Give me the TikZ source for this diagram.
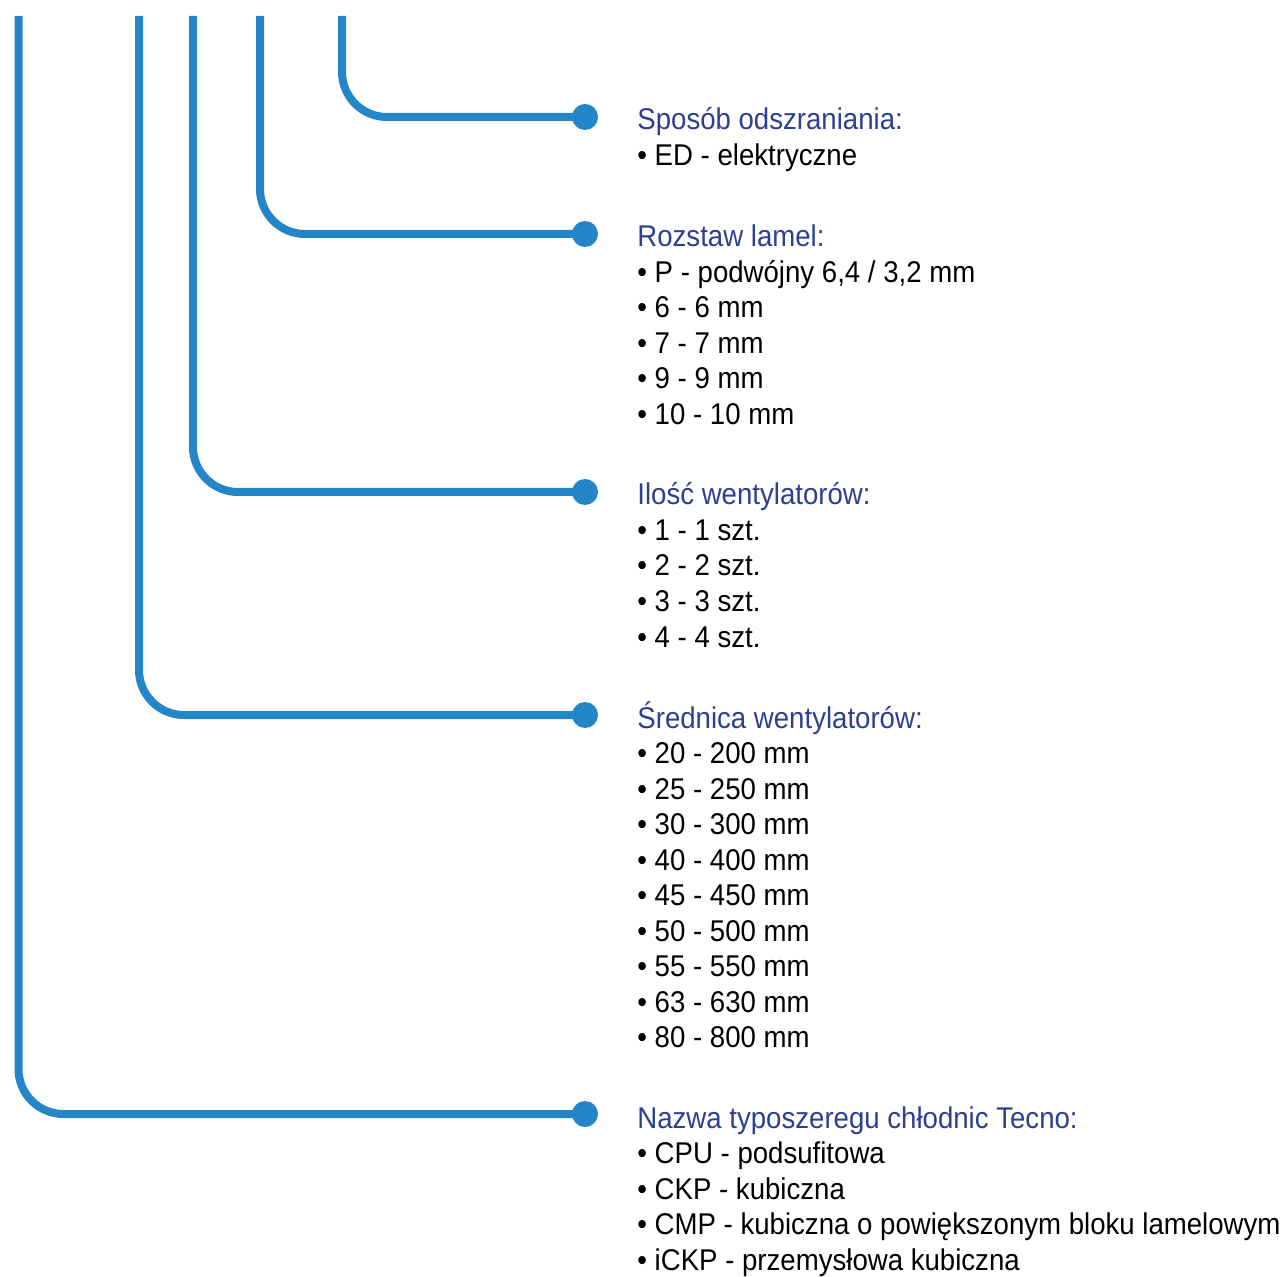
\documentclass[tikz,border=0pt]{standalone}
\usepackage{fontspec}
\setmainfont[FakeStretch=0.92]{Liberation Sans}
\usepackage{xcolor}
\usetikzlibrary{positioning}
\definecolor{tcBlue}{HTML}{2386C8}
\definecolor{tcNavy}{HTML}{2E3F8F}

\tikzset{
  lead/.style={tcBlue,line width=4pt,rounded corners=22.5pt},
  dot/.style={circle,fill=tcBlue,inner sep=0pt,minimum size=13pt},
  head/.style={tcNavy,anchor=base west,inner sep=0pt,font=\fontsize{15}{18}\selectfont},
  item/.style={black,anchor=base west,inner sep=0pt,font=\fontsize{15}{18}\selectfont}
}

\begin{document}
\begin{tikzpicture}[x=0.5pt,y=-0.5pt]
    \useasboundingbox (0,0) rectangle (1284,1277);
    % tops of the lines
    \coordinate (top1) at (18.5,16);
    \coordinate (top2) at (139,16);
    \coordinate (top3) at (193,16);
    \coordinate (top4) at (260,16);
    \coordinate (top5) at (342,16);
    % end dots
    \node[dot] (d5) at (585,117) {};
    \node[dot] (d4) at (585,234) {};
    \node[dot] (d3) at (585,492) {};
    \node[dot] (d2) at (585,715) {};
    \node[dot] (d1) at (585,1114) {};
    \draw[lead] (top5) |- (d5.center);
    \draw[lead] (top4) |- (d4.center);
    \draw[lead] (top3) |- (d3.center);
    \draw[lead] (top2) |- (d2.center);
    \draw[lead] (top1) |- (d1.center);

    % defrosting
    \node[head] (h5) at (637,130) {Sposób odszraniania:};
    \node[item] (i5-1) at (637,165.5) {• ED - elektryczne};

    % fin spacing
    \node[head] (h4) at (637,247) {Rozstaw lamel:};
    \foreach \txt [count=\i] in {{• P - podwójny 6,4 / 3,2 mm},{• 6 - 6 mm},{• 7 - 7 mm},{• 9 - 9 mm},{• 10 - 10 mm}}
      \node[item] (i4-\i) at (637,247+35.5*\i) {\txt};

    % number of fans
    \node[head] (h3) at (637,505) {Ilość wentylatorów:};
    \foreach \txt [count=\i] in {{• 1 - 1 szt.},{• 2 - 2 szt.},{• 3 - 3 szt.},{• 4 - 4 szt.}}
      \node[item] (i3-\i) at (637,505+35.5*\i) {\txt};

    % fan diameter
    \node[head] (h2) at (637,728) {Średnica wentylatorów:};
    \foreach \txt [count=\i] in {{• 20 - 200 mm},{• 25 - 250 mm},{• 30 - 300 mm},{• 40 - 400 mm},{• 45 - 450 mm},{• 50 - 500 mm},{• 55 - 550 mm},{• 63 - 630 mm},{• 80 - 800 mm}}
      \node[item] (i2-\i) at (637,728+35.5*\i) {\txt};

    % series
    \node[head] (h1) at (637,1128) {Nazwa typoszeregu chłodnic Tecno:};
    \foreach \txt [count=\i] in {{• CPU - podsufitowa},{• CKP - kubiczna},{• CMP - kubiczna o powiększonym bloku lamelowym},{• iCKP - przemysłowa kubiczna}}
      \node[item] (i1-\i) at (637,1128+35.5*\i) {\txt};
  \end{tikzpicture}
\end{document}
